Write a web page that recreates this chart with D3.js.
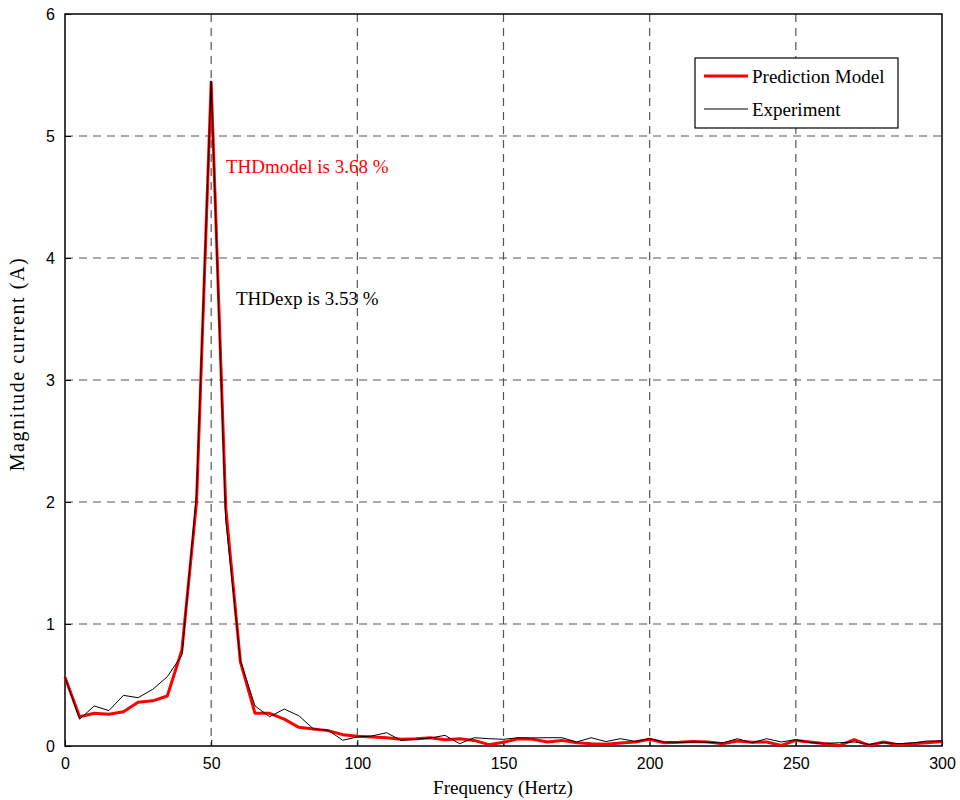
<!DOCTYPE html>
<html>
<head>
<meta charset="utf-8">
<script src="https://cdn.jsdelivr.net/npm/d3@7"></script>
<style>
  body { margin: 0; background: #fff; }
  .tick text { font-family: "Liberation Sans", Arial, sans-serif; font-size: 16px; fill: #000; }
  .lbl { font-family: "Liberation Serif", "Times New Roman", serif; }
</style>
</head>
<body>
<svg width="960" height="800"></svg>
<script>
// frequency points, every 5 Hz
var freq = d3.range(0, 301, 5);
var model = [0.563, 0.24, 0.268, 0.26, 0.28, 0.358, 0.37, 0.41, 0.787, 2.0, 5.44, 1.95, 0.69, 0.268, 0.268, 0.22, 0.153, 0.139, 0.126, 0.093,
  0.079, 0.074, 0.068, 0.055, 0.06, 0.068, 0.052, 0.06, 0.046, 0.011,
  0.03, 0.06, 0.055, 0.033, 0.046, 0.027, 0.019, 0.014, 0.025, 0.033,
  0.055, 0.027, 0.03, 0.036, 0.033, 0.019, 0.041, 0.03, 0.033, 0.005,
  0.046, 0.033, 0.019, 0.005, 0.052, 0.005, 0.033, 0.011, 0.019, 0.027, 0.036];
var experiment = [0.563, 0.22, 0.328, 0.29, 0.415, 0.396, 0.464, 0.568, 0.746, 2.07, 5.45, 1.85, 0.7, 0.328, 0.24, 0.303, 0.248, 0.139, 0.13, 0.047,
  0.074, 0.082, 0.109, 0.046, 0.055, 0.066, 0.087, 0.019, 0.068, 0.06,
  0.055, 0.068, 0.066, 0.068, 0.068, 0.033, 0.068, 0.036, 0.06, 0.038,
  0.06, 0.033, 0.03, 0.033, 0.03, 0.025, 0.06, 0.025, 0.06, 0.033,
  0.052, 0.027, 0.022, 0.027, 0.033, 0.014, 0.027, 0.019, 0.025, 0.041, 0.041];
var xTicks = [0, 50, 100, 150, 200, 250, 300];
var yTicks = [0, 1, 2, 3, 4, 5, 6];

var svg = d3.select("svg");
var pLeft = 65, pRight = 942, pTop = 14, pBottom = 746;
var x = d3.scaleLinear().domain([0, 300]).range([pLeft, pRight]);
var y = d3.scaleLinear().domain([0, 6]).range([pBottom, pTop]);

// grid
var grid = svg.append("g").attr("stroke", "#555").attr("stroke-width", 1.2).attr("stroke-dasharray", "8,6");
grid.selectAll(".gx").data(xTicks.slice(1, -1)).enter().append("line")
  .attr("x1", function(d) { return x(d); }).attr("x2", function(d) { return x(d); })
  .attr("y1", pTop).attr("y2", pBottom);
grid.selectAll(".gy").data(yTicks.slice(1, -1)).enter().append("line")
  .attr("x1", pLeft).attr("x2", pRight)
  .attr("y1", function(d) { return y(d); }).attr("y2", function(d) { return y(d); });

// axes (ticks inward like matlab)
svg.append("g").attr("transform", "translate(0," + pBottom + ")")
  .call(d3.axisBottom(x).tickValues(xTicks).tickFormat(d3.format("d")).tickSize(-6).tickPadding(12))
  .call(function(g) { g.select(".domain").remove(); });
svg.append("g").attr("transform", "translate(" + pLeft + ",0)")
  .call(d3.axisLeft(y).tickValues(yTicks).tickFormat(d3.format("d")).tickSize(-6).tickPadding(10))
  .call(function(g) { g.select(".domain").remove(); });
svg.append("rect").attr("x", pLeft).attr("y", pTop).attr("width", pRight - pLeft).attr("height", pBottom - pTop)
  .attr("fill", "none").attr("stroke", "#000").attr("stroke-width", 1.5);

// lines
var line = function(vals) {
  return d3.line().x(function(d, i) { return x(freq[i]); }).y(function(d) { return y(d); })(vals);
};
svg.append("path").attr("d", line(model)).attr("fill", "none").attr("stroke", "#ff0000").attr("stroke-width", 3).attr("stroke-linejoin", "round");
svg.append("path").attr("d", line(experiment)).attr("fill", "none").attr("stroke", "#000").attr("stroke-width", 1);

// annotations
svg.append("text").attr("class", "lbl").attr("x", 226).attr("y", 173).attr("fill", "#ff0000").style("font-size", "19px").text("THDmodel is 3.68 %");
svg.append("text").attr("class", "lbl").attr("x", 236).attr("y", 305).attr("fill", "#000").style("font-size", "19px").text("THDexp is 3.53 %");

// axis titles
svg.append("text").attr("class", "lbl").attr("x", 503).attr("y", 794).attr("text-anchor", "middle").style("font-size", "19px").text("Frequency (Hertz)");
svg.append("text").attr("class", "lbl").attr("transform", "translate(24,364) rotate(-90)").attr("text-anchor", "middle")
  .style("font-size", "20px").style("letter-spacing", "1.6px").text("Magnitude current (A)");

// legend
var lg = svg.append("g");
lg.append("rect").attr("x", 695).attr("y", 58).attr("width", 203).attr("height", 70).attr("fill", "#fff").attr("stroke", "#000").attr("stroke-width", 1.2);
lg.append("line").attr("x1", 704).attr("x2", 748).attr("y1", 76).attr("y2", 76).attr("stroke", "#ff0000").attr("stroke-width", 3);
lg.append("line").attr("x1", 704).attr("x2", 748).attr("y1", 109).attr("y2", 109).attr("stroke", "#000").attr("stroke-width", 1);
lg.append("text").attr("class", "lbl").attr("x", 752).attr("y", 83).style("font-size", "19px").text("Prediction Model");
lg.append("text").attr("class", "lbl").attr("x", 752).attr("y", 116).style("font-size", "19px").text("Experiment");
</script>
</body>
</html>
